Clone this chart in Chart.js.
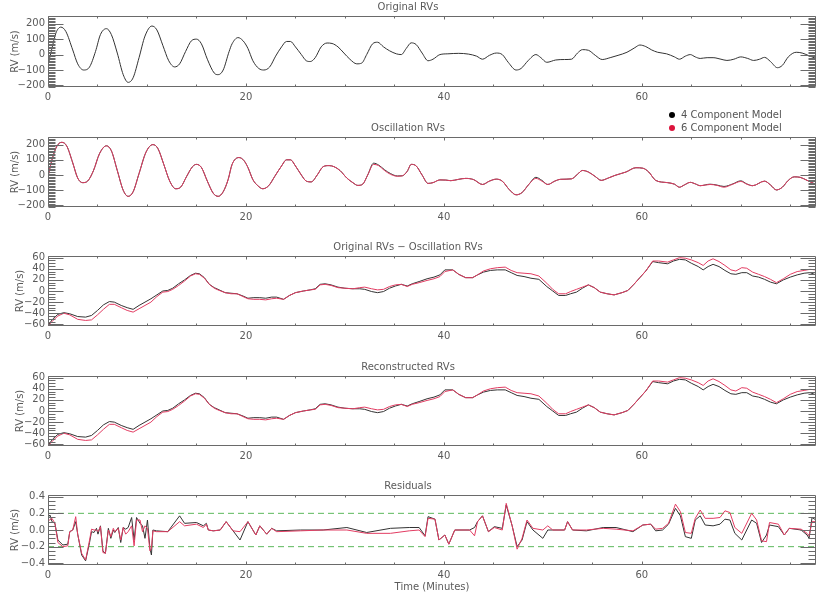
<!DOCTYPE html>
<html><head><meta charset="utf-8">
<script src="https://cdn.jsdelivr.net/npm/chart.js@4.4.1/dist/chart.umd.min.js"></script>
<style>
html,body{margin:0;padding:0;background:#fff;overflow:hidden;width:830px;height:599px;position:relative;}
canvas{position:absolute;left:0;}
.leg{position:absolute;left:669px;font:10px "DejaVu Sans",sans-serif;color:#555;white-space:nowrap;height:13px;line-height:13px;z-index:5;}
.dot{display:inline-block;width:6px;height:6px;border-radius:50%;margin-right:6px;vertical-align:0px;}
</style></head><body>
<canvas id="c1" width="864" height="109" style="top:0px"></canvas>
<canvas id="c2" width="864" height="114" style="top:115px"></canvas>
<canvas id="c3" width="864" height="114" style="top:234px"></canvas>
<canvas id="c4" width="864" height="114" style="top:354px"></canvas>
<canvas id="c5" width="864" height="126" style="top:473px"></canvas>
<div class="leg" style="top:108px"><span class="dot" style="background:#000"></span>4 Component Model</div>
<div class="leg" style="top:121px"><span class="dot" style="background:#dc143c"></span>6 Component Model</div>
<script>
// ---------- DATA ----------
const titles = ["Original RVs", "Oscillation RVs", "Original RVs \u2212 Oscillation RVs", "Reconstructed RVs", "Residuals"];
const seriesNames = ["4 Component Model", "6 Component Model"];
const xTicks = [0, 20, 40, 60];
const yTicksBig = [-200, -100, 0, 100, 200];
const yTicksMid = [-60, -40, -20, 0, 20, 40, 60];
const yTicksRes = [-0.4, -0.2, 0.0, 0.2, 0.4];
const resLimits = [0.2, -0.2];

const origT = [0,0.4,0.8,1.3,1.8,2.5,3.0,3.6,4.2,4.8,
 5.3,5.9,6.4,7.0,7.6,8.1,8.6,9.2,9.8,10.5,
 11.0,11.6,12.2,12.8,13.3,13.9,14.5,15.0,15.5,16.1,
 16.8,17.2,17.7,18.3,18.6,19.2,19.7,20.2,20.7,21.3,
 21.8,22.4,23.0,23.6,24.1,24.5,25.0,25.6,26.1,26.5,
 27.0,27.6,28.2,28.7,29.3,29.9,30.5,31.2,31.7,32.2,
 32.8,33.3,33.9,34.5,35.2,35.7,36.2,36.7,37.2,37.8,
 38.4,38.9,39.6,40.4,41.5,42.5,43.3,43.9,44.6,45.3,
 45.9,46.5,47.3,47.8,48.5,49.3,49.8,50.4,51.3,52.2,
 52.9,53.5,54.0,54.6,55.3,56.0,56.8,57.6,58.5,59.3,
 59.8,60.4,61.0,61.6,62.5,63.3,63.8,64.4,64.9,65.4,
 65.9,66.6,67.2,68.0,68.6,69.3,70.0,70.7,71.3,71.9,
 72.4,73.0,73.7,74.2,74.8,75.6,76.2,76.8,77.6];
const origRV = [-70,40,140,178,150,30,-60,-100,-80,20,
 130,168,130,10,-130,-180,-150,-20,120,185,
 160,60,-40,-80,-60,20,90,100,70,-30,
 -120,-130,-100,20,70,110,90,40,-40,-90,
 -100,-80,-10,50,85,85,50,0,-40,-45,
 -20,50,75,72,50,10,-30,-60,-55,0,
 70,80,50,25,5,0,40,76,65,10,
 -40,-30,0,5,8,3,-10,-30,-5,10,
 0,-50,-100,-90,-40,0,-20,-50,-35,-32,
 -30,10,32,28,-5,-32,-20,-5,15,45,
 62,52,30,15,5,-15,-30,-10,0,-15,
 -25,-20,-20,-30,-38,-30,-15,-25,-38,-30,
 -18,-45,-85,-70,-15,15,10,-5,-25];

const oscT = [0,0.4,0.9,1.4,1.9,2.5,3.0,3.5,4.0,4.6,
 5.2,5.9,6.4,7.0,7.6,8.1,8.6,9.2,9.9,10.6,
 11.1,11.7,12.3,12.9,13.4,14.0,14.6,15.0,15.5,16.1,
 16.7,17.2,17.7,18.2,18.6,19.3,19.8,20.2,20.7,21.2,
 21.7,22.3,22.9,23.6,24.1,24.5,25.0,25.6,26.1,26.6,
 27.2,27.8,28.4,28.9,29.5,30.2,30.8,31.3,31.8,32.3,
 32.9,33.4,34.0,34.6,35.3,35.8,36.3,36.7,37.2,37.8,
 38.4,38.9,39.6,40.2,40.7,41.5,42.2,43.0,43.9,44.6,
 45.3,45.9,46.6,47.3,47.9,48.6,49.3,49.9,50.5,51.2,
 51.8,52.9,53.5,54.0,54.6,55.3,55.9,56.6,57.3,58.4,
 59.4,60.1,60.7,61.4,62.6,63.3,63.8,64.3,64.9,65.4,
 65.9,66.9,67.6,68.3,69.2,70.0,70.6,71.2,72.4,73.0,
 73.6,74.2,74.8,75.4,76.0,76.7,77.6];
const osc4 = [-10,100,190,215,190,80,-20,-50,-40,30,
 140,192,160,30,-100,-140,-110,10,150,200,
 175,70,-40,-90,-80,-10,55,70,50,-40,
 -120,-140,-110,-30,70,115,95,50,-30,-70,
 -90,-70,-10,60,100,100,60,0,-40,-45,
 0,55,62,55,30,-20,-50,-68,-60,0,
 78,66,35,10,-6,-5,25,70,60,0,
 -55,-50,-32,-33,-37,-28,-22,-30,-62,-40,
 -27,-40,-95,-130,-115,-60,-15,-35,-62,-40,
 -28,-25,5,30,20,-10,-35,-20,-2,20,
 48,45,20,-35,-50,-60,-80,-65,-48,-58,
 -70,-60,-66,-75,-58,-38,-58,-70,-40,-65,
 -98,-80,-35,-12,-15,-35,-62];
const osc6 = [-10,100,190,215,190,80,-20,-50,-40,30,
 140,192,160,30,-100,-140,-110,10,150,200,
 175,70,-40,-90,-80,-10,55,70,50,-40,
 -120,-140,-110,-30,70,115,95,50,-30,-70,
 -90,-70,-10,60,100,100,60,0,-40,-45,
 0,55,62,55,30,-20,-50,-68,-60,0,
 70,62,30,5,-8,-5,25,70,60,0,
 -55,-50,-32,-33,-37,-28,-22,-30,-62,-40,
 -27,-40,-95,-130,-115,-60,-22,-40,-62,-40,
 -28,-25,5,30,20,-10,-35,-20,-2,20,
 48,45,20,-35,-50,-60,-80,-65,-48,-58,
 -70,-62,-68,-80,-60,-42,-60,-70,-40,-65,
 -98,-80,-35,-12,-15,-35,-62];

const trendT = [0,0.5,1.0,1.6,2.2,3.0,3.8,4.4,5.0,5.6,
 6.2,6.7,7.4,8.0,8.6,9.2,9.8,10.4,11.0,11.6,
 12.1,12.6,13.2,13.8,14.4,14.9,15.3,15.8,16.3,16.8,
 17.3,17.9,18.5,19.1,19.7,20.2,20.8,21.4,22.0,22.6,
 23.1,23.8,24.4,25.0,25.8,26.5,27.0,27.5,28.0,28.6,
 29.3,30.0,30.8,31.5,32.0,32.7,33.3,33.9,34.5,35.1,
 35.7,36.3,36.8,37.5,38.3,39.0,39.6,40.1,40.9,41.5,
 42.2,42.9,43.4,44.0,44.7,45.4,46.2,46.8,47.4,48.1,
 48.8,49.6,50.4,51.0,51.6,52.3,52.8,53.4,54.0,54.6,
 55.2,55.8,56.5,57.2,58.0,58.6,59.2,59.8,60.4,61.1,
 61.7,62.6,63.2,63.8,64.4,65.0,65.7,66.2,66.7,67.2,
 67.8,68.4,69.0,69.5,70.1,70.6,71.2,71.8,72.4,73.0,
 73.6,74.3,75.0,75.7,76.4,77.0,77.6];
const trend4 = [-62,-50,-42,-39,-41,-46,-47,-44,-35,-25,
 -19,-20,-26,-30,-33,-26,-20,-14,-7,0,
 1,5,13,20,28,32,31,24,12,6,
 2,-3,-4,-5,-9,-13,-12,-12,-13,-11,
 -11,-15,-8,-3,0,2,4,12,13,11,
 7,5,4,4,3,-1,-3,-1,5,9,
 12,9,13,17,22,25,29,38,38,30,
 24,24,29,34,37,38,38,33,28,26,
 23,21,8,0,-8,-8,-5,-2,5,11,
 6,-2,-5,-7,-3,1,12,24,36,53,
 51,49,54,57,56,50,44,38,44,48,
 44,37,31,30,33,33,27,25,21,16,
 13,20,25,29,32,33,29];
const trend6 = [-63,-53,-45,-40,-43,-51,-53,-52,-43,-33,
 -24,-24,-30,-35,-38,-32,-26,-20,-10,-2,
 -1,3,10,18,27,31,30,23,12,5,
 1,-3,-5,-5,-10,-14,-15,-15,-16,-14,
 -13,-15,-8,-3,0,2,3,11,12,10,
 6,5,4,6,7,4,2,3,8,11,
 12,8,12,15,19,22,26,35,38,30,
 24,24,29,36,40,42,43,37,33,32,
 31,27,14,3,-5,-5,-1,3,7,11,
 6,-2,-5,-7,-3,1,12,24,36,54,
 54,52,56,60,59,56,51,46,54,58,
 53,46,38,36,42,41,34,30,26,21,
 15,22,30,35,37,39,38];
// Reconstructed RVs read identical to the difference panel
const reconT = trendT.slice();
const recon4 = trend4.slice();
const recon6 = trend6.slice();

const resT = [0,0.2,0.4,0.7,1.0,1.5,2.0,2.2,2.5,2.8,
 3.0,3.4,3.8,4.2,4.4,4.65,4.9,5.05,5.3,5.55,
 5.8,6.1,6.35,6.6,6.75,7.1,7.35,7.6,7.85,8.1,
 8.45,8.7,8.95,9.3,9.55,9.8,10.05,10.3,10.45,10.6,
 10.95,12.1,13.3,13.8,15.0,15.7,16.0,16.2,16.7,17.4,
 18.0,18.7,19.4,20.2,21.0,21.4,22.1,22.6,23.1,25.5,
 27.8,30.2,32.2,34.6,36.5,37.5,38.1,38.4,39.1,39.5,
 40.1,40.5,41.1,42.6,43.1,43.4,43.9,44.5,45.1,45.9,
 46.3,46.9,47.4,47.9,48.4,49.0,50.0,50.5,51.0,52.2,
 52.5,53.0,54.4,56.1,57.4,59.1,60.1,60.9,61.4,62.1,
 62.7,63.4,63.9,64.4,65.0,65.4,65.9,66.4,67.2,67.9,
 68.4,68.9,69.4,70.1,71.1,71.6,72.1,72.6,72.9,73.8,
 74.4,74.9,76.1,76.7,76.9,77.2,77.6];
const res4 = [0.15,0.18,0.10,0.08,-0.12,-0.18,-0.17,-0.02,0.0,0.10,
 -0.05,-0.30,-0.37,-0.15,-0.02,-0.03,0.02,-0.05,0.05,-0.25,
 -0.28,0.02,-0.10,0.0,-0.03,0.03,-0.15,0.03,0.01,0.03,
 0.15,-0.12,0.15,0.08,0.05,-0.10,0.12,-0.22,-0.30,0.0,
 -0.01,-0.02,0.17,0.08,0.09,0.05,0.08,0.0,-0.01,0.0,
 0.10,-0.01,-0.12,0.10,-0.06,0.05,-0.05,0.02,-0.01,0.0,
 0.0,0.03,-0.03,0.02,0.03,0.03,-0.07,0.16,0.13,-0.12,
 -0.06,-0.17,0.0,0.0,0.03,0.10,0.17,-0.02,0.04,0.02,
 0.30,0.05,-0.20,-0.12,0.10,0.0,-0.10,0.0,0.0,0.0,
 0.10,0.0,-0.01,0.03,0.03,-0.02,0.06,0.07,-0.01,0.0,
 0.07,0.26,0.17,-0.08,-0.10,0.12,0.17,0.06,0.05,0.07,
 0.13,0.12,-0.04,-0.12,0.12,0.08,-0.15,-0.06,0.06,0.04,
 -0.06,0.02,0.0,-0.06,-0.10,0.15,0.12];
const res6 = [0.12,0.12,0.14,0.08,-0.15,-0.20,-0.19,-0.02,0.0,0.16,
 -0.05,-0.28,-0.36,-0.12,0.01,0.0,0.0,-0.02,0.04,-0.27,
 -0.28,0.0,-0.08,0.02,-0.02,0.02,-0.12,0.03,-0.05,-0.02,
 0.05,-0.19,0.12,0.12,-0.02,0.05,0.02,-0.25,-0.22,-0.01,
 -0.02,-0.02,0.10,0.05,0.07,0.03,0.07,0.0,-0.01,0.0,
 0.10,-0.01,-0.02,0.10,-0.06,0.05,-0.05,0.02,-0.02,-0.01,
 0.0,0.0,-0.04,-0.04,-0.01,0.0,-0.08,0.14,0.13,-0.12,
 -0.06,-0.17,0.0,0.0,-0.07,0.10,0.17,-0.02,0.03,0.0,
 0.32,0.05,-0.23,-0.10,0.12,0.02,0.0,0.05,0.0,0.0,
 0.10,0.0,0.0,0.02,0.01,-0.01,0.06,0.07,0.01,0.02,
 0.08,0.31,0.22,-0.03,-0.04,0.14,0.24,0.14,0.14,0.15,
 0.23,0.21,0.03,-0.04,0.20,0.12,-0.13,-0.14,0.09,0.07,
 -0.06,0.02,0.01,-0.04,-0.07,0.10,0.10];

// ---------- STYLE ----------
const FONT = '"DejaVu Sans", sans-serif';
const TXT = '#5a5a5a';
const AXC = '#6a6a6a';
const BLACK = '#333333';
const RED = '#e23c62';
const GREEN = '#5cb85c';
const XMAX = 77.6;

const idlFrame = {
  id: 'idlFrame',
  afterDraw(chart, args, o) {
    const {ctx, chartArea: a, scales: {x, y}} = chart;
    ctx.save();
    ctx.strokeStyle = AXC; ctx.lineWidth = 1;
    const L = Math.round(a.left) + 0.5, R = Math.round(a.right) - 0.5;
    const T = Math.round(a.top) + 0.5, B = Math.round(a.bottom) - 0.5;
    ctx.beginPath();
    ctx.rect(L, T, R - L, B - T);
    const n0 = Math.ceil(y.min / o.yMinor - 1e-9), n1 = Math.floor(y.max / o.yMinor + 1e-9);
    for (let k = n0; k <= n1; k++) {
      const v = k * o.yMinor;
      const r = v / o.yMajor;
      const major = Math.abs(r - Math.round(r)) < 1e-6;
      const len = major ? 15 : 7;
      const py = Math.round(y.getPixelForValue(v)) + 0.5;
      ctx.moveTo(L, py); ctx.lineTo(L + len, py);
      ctx.moveTo(R, py); ctx.lineTo(R - len, py);
    }
    for (let v = 0; v <= x.max + 1e-9; v += 5) {
      const major = v % 20 === 0;
      const len = major ? 3 : 2;
      const px = Math.round(x.getPixelForValue(v)) + 0.5;
      ctx.moveTo(px, B); ctx.lineTo(px, B - len);
      ctx.moveTo(px, T); ctx.lineTo(px, T + len);
    }
    ctx.stroke();
    ctx.restore();
  }
};
Chart.register(idlFrame);

const pts = (t, v) => t.map((tt, i) => ({x: tt, y: v[i]}));
const fmt = v => String(v).replace('-', '\u2212');

function makeChart(id, cfg) {
  const font = {family: FONT, size: 10, weight: 'normal'};
  return new Chart(document.getElementById(id), {
    type: 'line',
    data: {datasets: cfg.datasets},
    options: {
      responsive: false, animation: false, events: [],
      layout: {padding: {left: 0, right: 48, top: 0, bottom: 0}},
      elements: {point: {radius: 0}, line: {borderWidth: 1}},
      plugins: {
        legend: {display: false}, tooltip: {enabled: false},
        title: {display: true, text: cfg.title, color: TXT, font: font, padding: {top: cfg.pt, bottom: cfg.pb}},
        idlFrame: {yMinor: cfg.yMinor, yMajor: cfg.yMajor}
      },
      scales: {
        x: {
          type: 'linear', min: 0, max: XMAX, bounds: 'data',
          afterFit(s) { s.height = cfg.hx; },
          afterBuildTicks(s) { s.ticks = xTicks.map(v => ({value: v})); },
          grid: {display: false, drawTicks: false}, border: {display: false},
          ticks: {color: TXT, font: font, padding: 4, maxRotation: 0, autoSkip: false, callback: v => String(v)},
          title: cfg.xTitle ? {display: true, text: cfg.xTitle, color: TXT, font: font, padding: {top: 0, bottom: 6}} : {display: false}
        },
        y: {
          type: 'linear', min: cfg.ymin, max: cfg.ymax, bounds: 'data',
          afterFit(s) { s.width = 48; },
          afterBuildTicks(s) { s.ticks = cfg.yTicks.map(v => ({value: v})); },
          grid: {display: false, drawTicks: false}, border: {display: false},
          ticks: {color: TXT, font: font, padding: 3, autoSkip: false, callback: cfg.yFmt},
          title: {display: true, text: 'RV (m/s)', color: TXT, font: font, padding: {top: cfg.ytPad, bottom: 0}}
        }
      }
    }
  });
}

const line = (data, color, mono) => ({data, borderColor: color, borderWidth: 1, pointRadius: 0, fill: false,
  tension: mono ? 0.4 : 0, cubicInterpolationMode: mono ? 'monotone' : 'default'});

makeChart('c1', {title: titles[0], pt: 1, pb: 3, hx: 22, ytPad: 9, ymin: -210, ymax: 250, yTicks: yTicksBig, yMinor: 10, yMajor: 100, yFmt: v => fmt(v),
  datasets: [line(pts(origT, origRV), BLACK, true)]});
makeChart('c2', {title: titles[1], pt: 7, pb: 3, hx: 22, ytPad: 9, ymin: -210, ymax: 250, yTicks: yTicksBig, yMinor: 10, yMajor: 100, yFmt: v => fmt(v),
  datasets: [Object.assign(line(pts(oscT, osc6), RED, true), {label: seriesNames[1]}),
             Object.assign(line(pts(oscT, osc4), BLACK, true), {label: seriesNames[0]})]});
makeChart('c3', {title: titles[2], pt: 7, pb: 3, hx: 22, ytPad: 14, ymin: -63, ymax: 63, yTicks: yTicksMid, yMinor: 5, yMajor: 20, yFmt: v => fmt(v),
  datasets: [Object.assign(line(pts(trendT, trend6), RED), {label: seriesNames[1]}),
             Object.assign(line(pts(trendT, trend4), BLACK), {label: seriesNames[0]})]});
makeChart('c4', {title: titles[3], pt: 7, pb: 3, hx: 22, ytPad: 14, ymin: -63, ymax: 63, yTicks: yTicksMid, yMinor: 5, yMajor: 20, yFmt: v => fmt(v),
  datasets: [Object.assign(line(pts(reconT, recon6), RED), {label: seriesNames[1]}),
             Object.assign(line(pts(reconT, recon4), BLACK), {label: seriesNames[0]})]});
makeChart('c5', {title: titles[4], pt: 7, pb: 3, hx: 34, ytPad: 9, xTitle: 'Time (Minutes)', ymin: -0.42, ymax: 0.42, yTicks: yTicksRes, yMinor: 0.05, yMajor: 0.2,
  yFmt: v => fmt(Number(v).toFixed(1)),
  datasets: [Object.assign(line(pts(resT, res6), RED), {label: seriesNames[1]}),
             Object.assign(line(pts(resT, res4), BLACK), {label: seriesNames[0]}),
             ...resLimits.map(l => ({data: [{x: 0, y: l}, {x: XMAX, y: l}], borderColor: GREEN, borderWidth: 1, borderDash: [6, 4], pointRadius: 0, fill: false}))]});
</script>
</body></html>
